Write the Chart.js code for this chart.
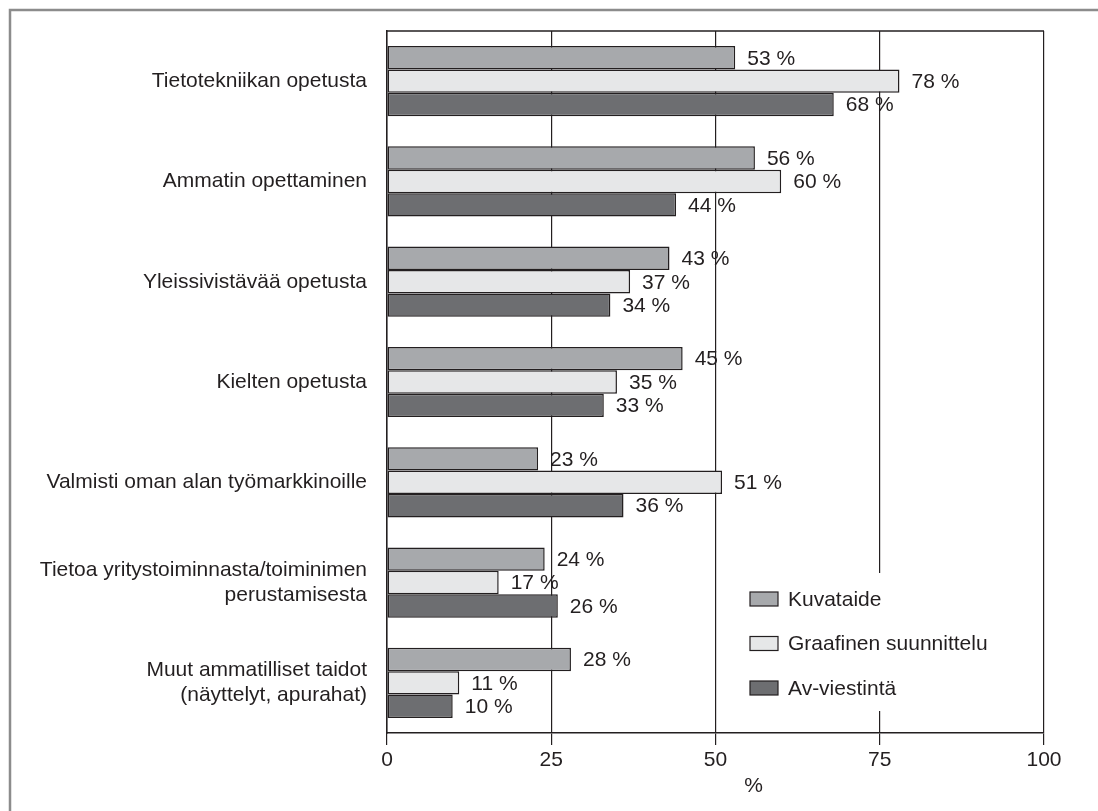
<!DOCTYPE html>
<html>
<head>
<meta charset="utf-8">
<script src="https://cdn.jsdelivr.net/npm/chart.js@4/dist/chart.umd.min.js"></script>
<style>
  html, body { margin: 0; padding: 0; background: #fff; }
  #wrap { width: 1098px; height: 811px; position: relative; }
</style>
</head>
<body>
<div id="wrap"><canvas id="chart"></canvas></div>
<script>
// kategoriat (y-akseli)
var categories = [
  'Tietotekniikan opetusta',
  'Ammatin opettaminen',
  'Yleissivistävää opetusta',
  'Kielten opetusta',
  'Valmisti oman alan työmarkkinoille',
  ['Tietoa yritystoiminnasta/toiminimen', 'perustamisesta'],
  ['Muut ammatilliset taidot', '(näyttelyt, apurahat)']
];
var seriesNames = ['Kuvataide', 'Graafinen suunnittelu', 'Av-viestintä'];
var kuvataide = [53, 56, 43, 45, 23, 24, 28];
var graafinen = [78, 60, 37, 35, 51, 17, 11];
var avViestinta = [68, 44, 34, 33, 36, 26, 10];
var xTicks = [0, 25, 50, 75, 100];
var xTitle = '%';

var FONT = '"Liberation Sans Narrow", "Liberation Sans", Arial, sans-serif';
var FSIZE = 21;
var INK = '#231f20';
var colors = ['#a7a9ac', '#e6e7e8', '#6d6e71'];

// arvot palkkien perään
var valueLabels = {
  id: 'valueLabels',
  afterDatasetsDraw: function(chart) {
    var ctx = chart.ctx;
    ctx.save();
    ctx.font = FSIZE + 'px ' + FONT;
    ctx.fillStyle = INK;
    ctx.textAlign = 'left';
    ctx.textBaseline = 'middle';
    chart.data.datasets.forEach(function(ds, i) {
      var meta = chart.getDatasetMeta(i);
      meta.data.forEach(function(bar, j) {
        ctx.fillText(ds.data[j] + ' %', bar.x + 12, bar.y + 1);
      });
    });
    ctx.restore();
  }
};

// kehys, yläreuna ja selite kaavion sisällä
var decorations = {
  id: 'decorations',
  beforeDraw: function(chart) {
    var ctx = chart.ctx;
    ctx.save();
    ctx.fillStyle = '#fff';
    ctx.fillRect(0, 0, chart.width, chart.height);
    ctx.strokeStyle = '#8c8c8c';
    ctx.lineWidth = 2.5;
    ctx.beginPath();
    ctx.moveTo(10, chart.height);
    ctx.lineTo(10, 10);
    ctx.lineTo(chart.width, 10);
    ctx.stroke();
    ctx.restore();
  },
  afterDraw: function(chart) {
    var ctx = chart.ctx;
    var a = chart.chartArea;
    ctx.save();
    // yläreuna
    ctx.strokeStyle = INK;
    ctx.lineWidth = 1.5;
    ctx.beginPath();
    ctx.moveTo(a.left, a.top);
    ctx.lineTo(a.right, a.top);
    ctx.stroke();

    // selite
    ctx.fillStyle = '#fff';
    ctx.fillRect(740, 573, 260, 138);
    ctx.font = FSIZE + 'px ' + FONT;
    ctx.textBaseline = 'middle';
    chart.data.datasets.forEach(function(ds, i) {
      var y = 599 + i * 44.5;
      ctx.fillStyle = ds.backgroundColor;
      ctx.fillRect(750, y - 7, 28, 14);
      ctx.strokeStyle = INK;
      ctx.lineWidth = 1.2;
      ctx.strokeRect(750, y - 7, 28, 14);
      ctx.fillStyle = INK;
      ctx.fillText(ds.label, 788, y + 1);
    });

    // x-akselin otsikko
    ctx.textAlign = 'center';
    ctx.fillText(xTitle, chart.scales.x.getPixelForValue(55.8), 786);
    ctx.restore();
  }
};

var datasets = [kuvataide, graafinen, avViestinta].map(function(values, i) {
  return {
    label: seriesNames[i],
    data: values,
    backgroundColor: colors[i],
    borderColor: INK,
    borderWidth: 1.5,
    borderSkipped: false,
    barPercentage: 1.0,
    categoryPercentage: 0.7
  };
});

var ctx = document.getElementById('chart').getContext('2d');
var chart = new Chart(ctx, {
  type: 'bar',
  data: { labels: categories, datasets: datasets },
  options: {
    indexAxis: 'y',
    responsive: true,
    maintainAspectRatio: false,
    animation: false,
    layout: { padding: { left: 0, top: 31, right: 54, bottom: 0 } },
    plugins: {
      legend: { display: false },
      tooltip: { enabled: false }
    },
    scales: {
      x: {
        min: 0,
        max: 100,
        afterBuildTicks: function(scale) {
          scale.ticks = xTicks.map(function(v) { return { value: v }; });
        },
        afterFit: function(scale) {
          scale.height = 78;
          scale.paddingLeft = 0;
          scale.paddingRight = 0;
        },
        grid: {
          color: INK,
          lineWidth: 1.2,
          tickLength: 12,
          tickColor: INK
        },
        border: { color: INK, width: 1.5 },
        ticks: {
          color: INK,
          font: { family: FONT, size: FSIZE },
          padding: 3,
          maxRotation: 0
        }
      },
      y: {
        afterFit: function(scale) {
          scale.width = 387;
          scale.paddingTop = 0;
          scale.paddingBottom = 0;
        },
        grid: { display: false, drawTicks: false },
        border: { color: INK, width: 1.5 },
        ticks: {
          color: INK,
          font: { family: FONT, size: FSIZE, lineHeight: 1.2 },
          padding: 20,
          crossAlign: 'near'
        }
      }
    }
  },
  plugins: [decorations, valueLabels]
});
</script>
</body>
</html>
